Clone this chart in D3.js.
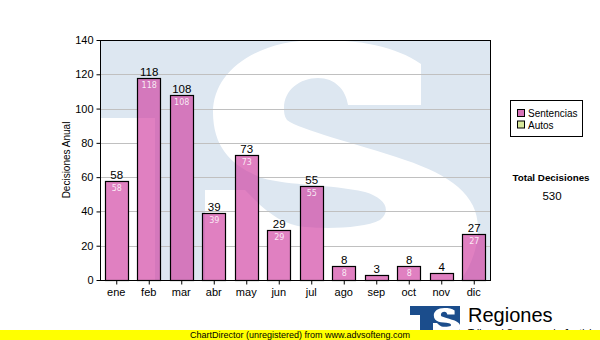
<!DOCTYPE html>
<html>
<head>
<meta charset="utf-8">
<script src="https://cdn.jsdelivr.net/npm/d3@7/dist/d3.min.js"></script>
<style>
  html, body { margin: 0; padding: 0; background: #fff; }
  svg { display: block; }
</style>
</head>
<body>
<svg id="chart" width="600" height="340"></svg>
<script>
// Monthly decisions
const months = ["ene", "feb", "mar", "abr", "may", "jun", "jul", "ago", "sep", "oct", "nov", "dic"];
const sentencias = [58, 118, 108, 39, 73, 29, 55, 8, 3, 8, 4, 27];
const autos = [0, 0, 0, 0, 0, 0, 0, 0, 0, 0, 0, 0];
const seriesNames = ["Sentencias", "Autos"];
const yTicks = [0, 20, 40, 60, 80, 100, 120, 140];

const COLORS = {
  sentencias: "rgb(208,60,160)",
  sentenciasSwatch: "#d672b8",
  autos: "#d8e89c",
  wmBlue: "#dde7f1",
  grid: "#c0c0c0",
  logo: "#1b4d8c"
};
const FONT = "'Liberation Sans', Arial, sans-serif";
const FONT2 = "'DejaVu Sans', Verdana, sans-serif";

// Big "S" emblem outline used as plot watermark and in the logo
const S_PATH =
  "M421,64 C395,46 360,40 318,40 C255,40 213,72 213,112 " +
  "C213,148 232,166 262,178 C290,186 330,184 365,192 " +
  "C385,198 392,210 380,220 C365,228 330,229 305,227 " +
  "C285,225 270,215 255,200 L245,190 L205,190 L205,300 L440,300 " +
  "C462,285 478,258 478,228 C478,195 450,175 405,160 " +
  "C355,143 300,130 287,120 C284,116 284,112 284,108 " +
  "C284,90 300,78 318,78 C335,78 346,90 348,105 L421,105 Z";

const svg = d3.select("#chart");
const defs = svg.append("defs");
const plot = { l: 100, r: 490, t: 40, b: 280 };

const x = d3.scaleBand().domain(months).range([plot.l, plot.r])
  .paddingInner(0.3).paddingOuter(0.15);
const y = d3.scaleLinear().domain([0, 140]).range([plot.b, plot.t]);

// Watermark artwork
const wm = defs.append("g").attr("id", "wm");
wm.append("rect").attr("x", plot.l).attr("y", plot.t)
  .attr("width", plot.r - plot.l).attr("height", plot.b - plot.t)
  .attr("fill", COLORS.wmBlue);
wm.append("rect").attr("x", plot.l).attr("y", 118)
  .attr("width", 55).attr("height", plot.b - 118).attr("fill", "#fff");
wm.append("path").attr("d", S_PATH).attr("fill", "#fff");

defs.append("clipPath").attr("id", "plotClip").append("rect")
  .attr("x", plot.l).attr("y", plot.t)
  .attr("width", plot.r - plot.l).attr("height", plot.b - plot.t);

svg.append("use").attr("href", "#wm").attr("clip-path", "url(#plotClip)");

// Horizontal grid
svg.append("g").selectAll("line")
  .data(yTicks.filter(v => v > 0 && v < 140))
  .join("line")
  .attr("x1", plot.l).attr("x2", plot.r)
  .attr("y1", d => Math.round(y(d)) + 0.5).attr("y2", d => Math.round(y(d)) + 0.5)
  .attr("stroke", COLORS.grid).attr("stroke-width", 1);

// Bars (stacked: Sentencias then Autos)
const rows = months.map((m, i) => ({ m, s: sentencias[i], a: autos[i], total: sentencias[i] + autos[i] }));
const bx = d => Math.round(x(d.m)) + 0.5;
const bw = () => Math.round(x.bandwidth());

const barClip = defs.append("clipPath").attr("id", "barClip");
barClip.selectAll("rect").data(rows).join("rect")
  .attr("x", bx).attr("width", bw)
  .attr("y", d => y(d.s)).attr("height", d => y(0) - y(d.s));
svg.append("use").attr("href", "#wm").attr("clip-path", "url(#barClip)");

svg.append("g").selectAll("rect").data(rows).join("rect")
  .attr("x", bx).attr("width", bw)
  .attr("y", d => Math.round(y(d.s)) + 0.5)
  .attr("height", d => Math.round(y(0)) - Math.round(y(d.s)))
  .attr("fill", COLORS.sentencias).attr("fill-opacity", 0.65)
  .attr("stroke", "#000").attr("stroke-width", 1.2);

svg.append("g").selectAll("rect").data(rows.filter(d => d.a > 0)).join("rect")
  .attr("x", bx).attr("width", bw)
  .attr("y", d => y(d.total)).attr("height", d => y(d.s) - y(d.total))
  .attr("fill", COLORS.autos).attr("stroke", "#000");

// Plot frame
svg.append("rect").attr("x", plot.l + 0.5).attr("y", plot.t + 0.5)
  .attr("width", plot.r - plot.l).attr("height", plot.b - plot.t)
  .attr("fill", "none").attr("stroke", "#000").attr("stroke-width", 1);

// Axes
const yAxis = svg.append("g").attr("transform", `translate(${plot.l + 0.5},0)`)
  .call(d3.axisLeft(y).tickValues(yTicks).tickSize(4).tickPadding(3).tickSizeOuter(0));
const xAxis = svg.append("g").attr("transform", `translate(0,${plot.b + 0.5})`)
  .call(d3.axisBottom(x).tickSize(4).tickPadding(4).tickSizeOuter(0));
[yAxis, xAxis].forEach(g => {
  g.select(".domain").remove();
  g.selectAll("text").attr("font-family", FONT).attr("font-size", 11).attr("fill", "#000");
  g.selectAll("line").attr("stroke", "#000");
});
xAxis.selectAll(".tick line").attr("transform", "translate(0.5,0)");

// Axis title
svg.append("text").attr("transform", "translate(70,160) rotate(-90)")
  .attr("text-anchor", "middle").attr("font-family", FONT).attr("font-size", 10)
  .text("Decisiones Anual");

// Value labels
svg.append("g").selectAll("text").data(rows).join("text")
  .attr("x", d => x(d.m) + x.bandwidth() / 2 + 0.5)
  .attr("y", d => y(d.total) - 2)
  .attr("text-anchor", "middle").attr("font-family", FONT).attr("font-size", 11.5)
  .text(d => d.total);
svg.append("g").selectAll("text").data(rows.filter(d => d.s >= 5)).join("text")
  .attr("x", d => x(d.m) + x.bandwidth() / 2 + 0.5)
  .attr("y", d => y(d.s) + 10)
  .attr("text-anchor", "middle").attr("font-family", FONT2).attr("font-size", 8)
  .attr("fill", "#fff").attr("fill-opacity", 0.85)
  .text(d => d.s);

// Legend
const lg = svg.append("g");
lg.append("rect").attr("x", 510.5).attr("y", 100.5).attr("width", 72).attr("height", 36)
  .attr("fill", "#fff").attr("stroke", "#000");
const swatch = [COLORS.sentenciasSwatch, COLORS.autos];
seriesNames.forEach((name, i) => {
  const base = 117 + i * 11.5;
  lg.append("rect").attr("x", 517.5).attr("y", base - 7.5).attr("width", 7).attr("height", 7)
    .attr("fill", swatch[i]).attr("stroke", "#000");
  lg.append("text").attr("x", 528).attr("y", base)
    .attr("font-family", FONT).attr("font-size", 10).text(name);
});

// Total
svg.append("text").attr("x", 551).attr("y", 181).attr("text-anchor", "middle")
  .attr("font-family", FONT).attr("font-size", 9.8).attr("font-weight", "bold")
  .text("Total Decisiones");
svg.append("text").attr("x", 552).attr("y", 200).attr("text-anchor", "middle")
  .attr("font-family", FONT).attr("font-size", 11.5)
  .text(d3.sum(sentencias) + d3.sum(autos));

// Logo
const logo = svg.append("g");
logo.append("rect").attr("x", 410).attr("y", 306).attr("width", 50).attr("height", 26).attr("fill", COLORS.logo);
logo.append("rect").attr("x", 410).attr("y", 315).attr("width", 10).attr("height", 17).attr("fill", "#fff");
logo.append("path").attr("d", S_PATH).attr("fill", "#fff")
  .attr("transform", "translate(412.5,304) scale(0.1)");
logo.append("text").attr("x", 468).attr("y", 322).attr("font-family", FONT).attr("font-size", 20)
  .text("Regiones");
logo.append("text").attr("x", 468).attr("y", 336.5).attr("font-family", FONT).attr("font-size", 10)
  .text("Tribunal Supremo de Justicia");

// Footer band
svg.append("rect").attr("x", 0).attr("y", 330).attr("width", 600).attr("height", 10).attr("fill", "#ffff00");
svg.append("text").attr("x", 300).attr("y", 338).attr("text-anchor", "middle")
  .attr("font-family", FONT).attr("font-size", 9)
  .text("ChartDirector (unregistered) from www.advsofteng.com");
</script>
</body>
</html>
